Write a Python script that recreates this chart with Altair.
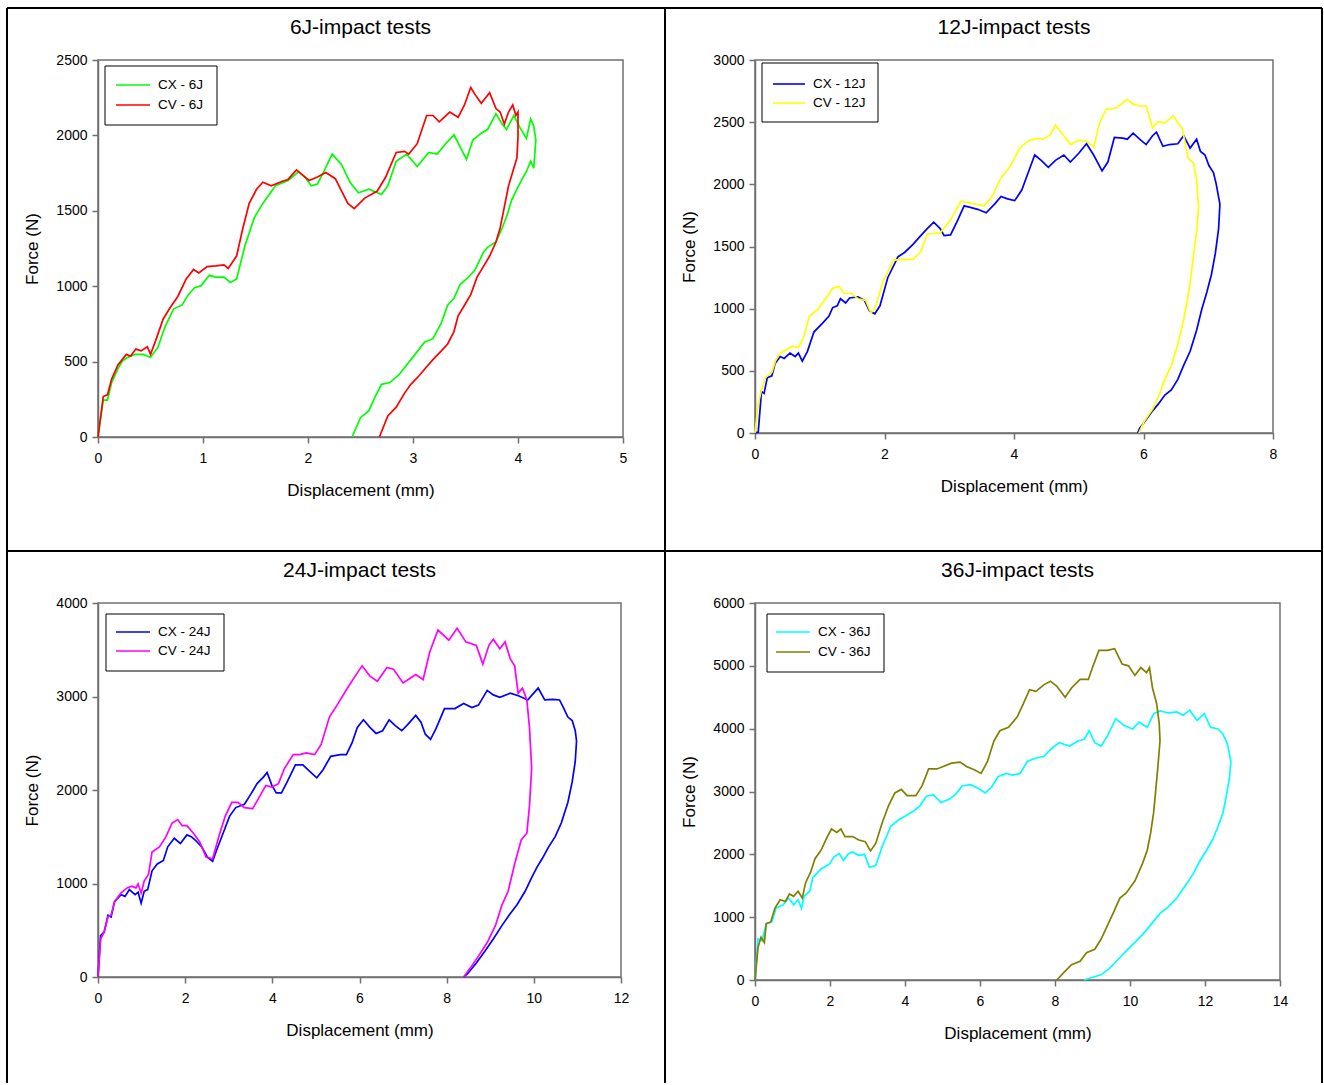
import altair as alt
import pandas as pd

FONT = "Liberation Sans"

TITLES = ["6J-impact tests", "12J-impact tests", "24J-impact tests", "36J-impact tests"]
X_TITLE = "Displacement (mm)"
Y_TITLE = "Force (N)"

NAMES_6 = ["CX - 6J", "CV - 6J"]
NAMES_12 = ["CX - 12J", "CV - 12J"]
NAMES_24 = ["CX - 24J", "CV - 24J"]
NAMES_36 = ["CX - 36J", "CV - 36J"]

# ---------------- 6J ----------------
CX6_X = [0, 0.05, 0.09, 0.13, 0.19, 0.23, 0.27, 0.35, 0.43, 0.50,
         0.57, 0.64, 0.72, 0.80, 0.86, 0.92, 0.98, 1.06, 1.12, 1.20,
         1.26, 1.32, 1.40, 1.49, 1.57, 1.69, 1.81, 1.91, 1.97, 2.03,
         2.09, 2.15, 2.23, 2.32, 2.40, 2.48, 2.58, 2.70, 2.76, 2.84,
         2.94, 3.04, 3.15, 3.23, 3.31, 3.39, 3.45, 3.51, 3.57, 3.65,
         3.71, 3.79, 3.85, 3.89, 3.96, 4.02, 4.08, 4.12, 4.15, 4.17,
         4.15, 4.12, 4.08, 4.04, 3.98, 3.94, 3.90, 3.85, 3.79, 3.71,
         3.67, 3.59, 3.51, 3.45, 3.39, 3.33, 3.27, 3.19, 3.11, 3.02,
         2.94, 2.86, 2.78, 2.70, 2.64, 2.58, 2.50, 2.42]
CX6_Y = [0, 245, 245, 361, 454, 501, 524, 548, 548, 529,
         594, 734, 850, 874, 944, 990, 1002, 1072, 1060, 1060,
         1025, 1048, 1270, 1456, 1549, 1666, 1701, 1759, 1724, 1666,
         1678, 1759, 1876, 1806, 1689, 1619, 1643, 1608, 1666, 1829,
         1876, 1794, 1887, 1876, 1945, 2004, 1922, 1841, 1969, 2015,
         2039, 2144, 2074, 2039, 2132, 2050, 1980, 2109, 2062, 1969,
         1782, 1829, 1759, 1712, 1631, 1573, 1480, 1386, 1293, 1258,
         1223, 1107, 1048, 1013, 920, 874, 757, 652, 629, 548,
         478, 408, 361, 349, 268, 175, 128, 0]
CV6_X = [0, 0.05, 0.09, 0.13, 0.19, 0.27, 0.31, 0.36, 0.41, 0.47,
         0.50, 0.55, 0.62, 0.68, 0.76, 0.84, 0.91, 0.96, 1.04, 1.12,
         1.20, 1.24, 1.32, 1.38, 1.44, 1.51, 1.57, 1.65, 1.75, 1.81,
         1.89, 1.95, 2.01, 2.09, 2.17, 2.26, 2.32, 2.38, 2.44, 2.54,
         2.66, 2.74, 2.84, 2.92, 2.96, 3.04, 3.13, 3.19, 3.25, 3.35,
         3.43, 3.49, 3.55, 3.59, 3.65, 3.73, 3.79, 3.83, 3.87, 3.91,
         3.95, 3.98, 4.00,
         4.00, 3.99, 3.96, 3.91, 3.87, 3.83, 3.79, 3.73, 3.67, 3.61,
         3.55, 3.49, 3.43, 3.39, 3.33, 3.27, 3.19, 3.13, 3.06, 2.98,
         2.92, 2.84, 2.76, 2.70, 2.68]
CV6_Y = [0, 268, 280, 384, 478, 548, 536, 583, 571, 599,
         548, 641, 781, 850, 932, 1048, 1111, 1088, 1130, 1135,
         1142, 1118, 1200, 1386, 1549, 1643, 1689, 1666, 1694, 1708,
         1771, 1736, 1701, 1724, 1754, 1713, 1631, 1549, 1515, 1584,
         1631, 1724, 1887, 1894, 1876, 1945, 2132, 2132, 2090, 2155,
         2120, 2202, 2318, 2272, 2213, 2283, 2178, 2155, 2074, 2155,
         2202, 2132, 2155,
         1992, 1852, 1782, 1666, 1526, 1386, 1293, 1200, 1130, 1060,
         944, 874, 804, 699, 617, 571, 513, 466, 408, 349,
         291, 198, 140, 35, 0]

# ---------------- 12J ----------------
CX12_X = [0, 0.05, 0.10, 0.14, 0.19, 0.26, 0.31, 0.39, 0.45, 0.54,
          0.62, 0.67, 0.73, 0.81, 0.91, 1.04, 1.14, 1.20, 1.27, 1.32,
          1.40, 1.46, 1.59, 1.69, 1.77, 1.85, 1.93, 2.05, 2.21, 2.31,
          2.44, 2.56, 2.66, 2.76, 2.86, 2.92, 3.02, 3.12, 3.23, 3.34,
          3.44, 3.57, 3.70, 3.80, 3.90, 4.01, 4.12, 4.22, 4.32, 4.42,
          4.53, 4.64, 4.77, 4.87, 5.00, 5.12, 5.23, 5.36, 5.45, 5.55,
          5.68, 5.75, 5.84, 5.94, 6.04, 6.14, 6.20, 6.30, 6.40, 6.53,
          6.62, 6.72, 6.82, 6.88, 6.95, 7.01, 7.08, 7.12, 7.18, 7.16,
          7.11, 7.05, 6.98, 6.90, 6.82, 6.72, 6.62, 6.53, 6.43, 6.33,
          6.23, 6.14, 6.04, 5.94, 5.91]
CX12_Y = [0, 8, 333, 319, 445, 460, 558, 615, 600, 643,
          615, 643, 578, 657, 812, 882, 939, 1009, 1023, 1080,
          1046, 1086, 1094, 1066, 981, 959, 1023, 1249, 1418, 1452,
          1517, 1587, 1644, 1695, 1644, 1587, 1593, 1700, 1827, 1813,
          1799, 1771, 1841, 1903, 1883, 1869, 1954, 2095, 2236, 2193,
          2137, 2193, 2236, 2179, 2250, 2326, 2236, 2109, 2179, 2377,
          2371, 2363, 2411, 2363, 2320, 2391, 2419, 2306, 2320, 2326,
          2391, 2292, 2363, 2264, 2236, 2151, 2095, 2010, 1841, 1644,
          1446, 1277, 1136, 995, 826, 657, 544, 431, 347, 305,
          234, 178, 107, 37, 0]
CV12_X = [0, 0.05, 0.10, 0.16, 0.26, 0.32, 0.39, 0.49, 0.58, 0.67,
          0.75, 0.84, 0.97, 1.10, 1.20, 1.30, 1.38, 1.49, 1.59, 1.71,
          1.79, 1.85, 1.98, 2.14, 2.31, 2.44, 2.56, 2.66, 2.86, 3.02,
          3.18, 3.34, 3.54, 3.67, 3.80, 3.93, 4.09, 4.22, 4.35, 4.45,
          4.56, 4.64, 4.74, 4.87, 5.00, 5.12, 5.23, 5.32, 5.42, 5.58,
          5.75, 5.84, 5.94, 6.04, 6.14, 6.23, 6.33, 6.46, 6.54, 6.60,
          6.69, 6.77, 6.82, 6.85, 6.82,
          6.77, 6.71, 6.62, 6.53, 6.43, 6.33, 6.23, 6.14, 6.01, 5.93]
CV12_Y = [0, 234, 347, 445, 488, 586, 643, 671, 699, 685,
          770, 939, 995, 1086, 1164, 1179, 1122, 1122, 1080, 1066,
          967, 995, 1221, 1390, 1396, 1396, 1460, 1601, 1610, 1714,
          1864, 1847, 1827, 1911, 2053, 2137, 2292, 2349, 2368, 2363,
          2399, 2475, 2411, 2320, 2354, 2349, 2298, 2490, 2602, 2616,
          2681, 2645, 2630, 2630, 2456, 2504, 2495, 2552, 2490, 2447,
          2208, 2174, 2039, 1813, 1616,
          1418, 1164, 911, 713, 544, 431, 290, 192, 93, 0]

# ---------------- 24J ----------------
CX24_X = [0, 0.06, 0.14, 0.23, 0.30, 0.38, 0.53, 0.62, 0.72, 0.85,
          0.92, 0.99, 1.06, 1.14, 1.24, 1.36, 1.50, 1.60, 1.75, 1.89,
          2.04, 2.14, 2.23, 2.38, 2.51, 2.63, 2.72, 2.87, 3.02, 3.16,
          3.36, 3.51, 3.65, 3.80, 3.88, 3.99, 4.09, 4.21, 4.34, 4.53,
          4.70, 4.87, 5.02, 5.16, 5.34, 5.56, 5.70, 5.83, 5.95, 6.09,
          6.24, 6.38, 6.53, 6.68, 6.82, 6.97, 7.12, 7.29, 7.41, 7.51,
          7.63, 7.75, 7.95, 8.19, 8.39, 8.58, 8.73, 8.93, 9.07, 9.22,
          9.46, 9.66, 9.86, 9.96, 10.10, 10.25, 10.44, 10.59, 10.69, 10.78,
          10.88, 10.95, 10.98, 10.95,
          10.88, 10.78, 10.63, 10.49, 10.34, 10.19, 10.07, 9.95, 9.80, 9.61,
          9.46, 9.27, 9.07, 8.88, 8.68, 8.49, 8.39]
CX24_Y = [0, 442, 479, 661, 643, 807, 880, 862, 935, 880,
          906, 789, 917, 935, 1136, 1209, 1246, 1392, 1483, 1428,
          1520, 1501, 1465, 1392, 1282, 1238, 1355, 1538, 1721, 1812,
          1848, 1958, 2068, 2141, 2188, 2049, 1969, 1969, 2086, 2268,
          2268, 2195, 2130, 2214, 2360, 2378, 2378, 2506, 2670, 2751,
          2670, 2605, 2634, 2751, 2689, 2634, 2707, 2798, 2725, 2597,
          2542, 2652, 2871, 2871, 2926, 2882, 2908, 3065, 3017, 2992,
          3035, 3006, 2963, 3017, 3090, 2963, 2970, 2963, 2871, 2780,
          2743, 2634, 2524, 2305,
          2086, 1867, 1647, 1501, 1392, 1264, 1173, 1063, 917, 771,
          679, 552, 406, 278, 150, 40, 0]
CV24_X = [0, 0.06, 0.14, 0.23, 0.30, 0.38, 0.53, 0.67, 0.77, 0.87,
          0.92, 0.99, 1.06, 1.16, 1.24, 1.41, 1.56, 1.70, 1.83, 1.93,
          2.04, 2.19, 2.33, 2.48, 2.63, 2.77, 2.92, 3.07, 3.21, 3.36,
          3.55, 3.72, 3.85, 3.99, 4.14, 4.28, 4.48, 4.63, 4.78, 4.97,
          5.12, 5.31, 5.51, 5.70, 5.90, 6.06, 6.24, 6.41, 6.63, 6.78,
          7.00, 7.12, 7.29, 7.46, 7.61, 7.80, 8.05, 8.24, 8.44, 8.68,
          8.83, 8.97, 9.07, 9.22, 9.34, 9.46, 9.56, 9.64, 9.74, 9.84,
          9.90, 9.95,
          9.90, 9.84, 9.71, 9.56, 9.41, 9.27, 9.12, 8.93, 8.73, 8.54, 8.39]
CV24_Y = [0, 405, 479, 643, 661, 807, 899, 953, 972, 953,
          997, 899, 1026, 1100, 1337, 1392, 1501, 1647, 1684, 1618,
          1618, 1538, 1447, 1282, 1264, 1501, 1721, 1867, 1867, 1812,
          1801, 1940, 2049, 2031, 2068, 2232, 2378, 2378, 2396, 2378,
          2488, 2780, 2926, 3072, 3218, 3328, 3218, 3163, 3310, 3291,
          3145, 3182, 3236, 3182, 3474, 3711, 3602, 3730, 3584, 3547,
          3346, 3547, 3613, 3510, 3584, 3401, 3328, 3036, 3090, 2963,
          2670, 2232,
          1830, 1538, 1465, 1209, 917, 771, 552, 369, 223, 95, 0]

# ---------------- 36J ----------------
CX36_X = [0, 0.08, 0.19, 0.30, 0.45, 0.56, 0.75, 0.90, 1.03, 1.15,
          1.24, 1.31, 1.46, 1.54, 1.76, 1.99, 2.10, 2.25, 2.36, 2.49,
          2.60, 2.77, 2.92, 3.05, 3.22, 3.39, 3.62, 3.84, 4.01, 4.23,
          4.40, 4.57, 4.76, 4.96, 5.19, 5.36, 5.52, 5.75, 5.97, 6.14,
          6.31, 6.48, 6.70, 6.87, 7.07, 7.26, 7.49, 7.71, 7.88, 8.11,
          8.39, 8.61, 8.78, 8.91, 9.06, 9.23, 9.40, 9.62, 9.85, 10.07,
          10.24, 10.46, 10.63, 10.80, 11.03, 11.25, 11.42, 11.59, 11.79, 11.98,
          12.15, 12.35, 12.48, 12.60, 12.69, 12.65,
          12.57, 12.48, 12.35, 12.20, 12.04, 11.87, 11.68, 11.47, 11.25, 11.03,
          10.80, 10.58, 10.35, 10.13, 9.90, 9.68, 9.46, 9.23, 9.00, 8.78]
CX36_Y = [0, 652, 625, 897, 924, 1141, 1196, 1304, 1196, 1277,
          1141, 1332, 1413, 1630, 1766, 1848, 1957, 2011, 1902, 2011,
          2038, 1984, 2000, 1794, 1821, 2120, 2446, 2554, 2609, 2690,
          2772, 2924, 2946, 2826, 2880, 2962, 3087, 3109, 3044, 2978,
          3071, 3234, 3288, 3261, 3288, 3478, 3533, 3560, 3669, 3777,
          3723, 3804, 3832, 3967, 3777, 3723, 3886, 4158, 4049, 3995,
          4103, 4022, 4239, 4283, 4250, 4266, 4212, 4294, 4131, 4239,
          4022, 3995, 3913, 3750, 3478, 3207,
          2935, 2663, 2446, 2228, 2065, 1902, 1685, 1495, 1304, 1169,
          1060, 897, 734, 598, 462, 326, 190, 82, 43, 0]
CV36_X = [0, 0.08, 0.16, 0.25, 0.30, 0.42, 0.53, 0.67, 0.81, 0.92,
          1.03, 1.15, 1.26, 1.35, 1.48, 1.60, 1.76, 1.93, 2.04, 2.18,
          2.29, 2.40, 2.60, 2.77, 2.94, 3.08, 3.22, 3.39, 3.56, 3.73,
          3.90, 4.06, 4.29, 4.46, 4.63, 4.85, 5.02, 5.24, 5.47, 5.64,
          5.86, 6.03, 6.20, 6.37, 6.53, 6.76, 6.99, 7.16, 7.32, 7.49,
          7.71, 7.88, 8.05, 8.27, 8.44, 8.67, 8.89, 9.00, 9.17, 9.39,
          9.59, 9.79, 9.96, 10.13, 10.29, 10.44, 10.52, 10.60, 10.71, 10.78,
          10.80,
          10.74, 10.69, 10.63, 10.55, 10.46, 10.33, 10.13, 9.90, 9.73, 9.57,
          9.40, 9.23, 9.06, 8.84, 8.67, 8.44, 8.22, 8.05]
CV36_Y = [0, 516, 679, 598, 897, 924, 1141, 1277, 1250, 1370,
          1332, 1413, 1304, 1549, 1712, 1930, 2065, 2283, 2402, 2348,
          2402, 2283, 2283, 2228, 2201, 2054, 2174, 2500, 2772, 2978,
          3033, 2935, 2935, 3098, 3359, 3359, 3397, 3451, 3468, 3397,
          3343, 3288, 3478, 3804, 3967, 4022, 4185, 4402, 4620, 4593,
          4701, 4756, 4674, 4500, 4647, 4783, 4783, 4973, 5245, 5245,
          5272, 5027, 5000, 4848, 4973, 4891, 4973, 4647, 4402, 4076,
          3804,
          3370, 3044, 2663, 2337, 2065, 1848, 1576, 1386, 1304, 1087,
          870, 652, 489, 435, 299, 245, 109, 0]

# axis ticks
X_TICKS_6 = [0, 1, 2, 3, 4, 5]
Y_TICKS_6 = [0, 500, 1000, 1500, 2000, 2500]
X_TICKS_12 = [0, 2, 4, 6, 8]
Y_TICKS_12 = [0, 500, 1000, 1500, 2000, 2500, 3000]
X_TICKS_24 = [0, 2, 4, 6, 8, 10, 12]
Y_TICKS_24 = [0, 1000, 2000, 3000, 4000]
X_TICKS_36 = [0, 2, 4, 6, 8, 10, 12, 14]
Y_TICKS_36 = [0, 1000, 2000, 3000, 4000, 5000, 6000]


def curve_df(xs, ys):
    n = min(len(xs), len(ys))
    return pd.DataFrame({"x": xs[:n], "y": ys[:n], "i": list(range(n))})


def one_row(**kw):
    return pd.DataFrame([kw])


def panel(title, curves, xticks, yticks, w, h, leg, frame=None):
    xenc = alt.X("x:Q", scale=alt.Scale(domain=[xticks[0], xticks[-1]], nice=False, zero=False),
                 axis=alt.Axis(values=xticks, title=X_TITLE, format="d"))
    yenc = alt.Y("y:Q", scale=alt.Scale(domain=[yticks[0], yticks[-1]], nice=False, zero=False),
                 axis=alt.Axis(values=yticks, title=Y_TITLE, format="d"))
    layers = []
    for name, xs, ys, col in curves:
        layers.append(
            alt.Chart(curve_df(xs, ys)).mark_line(color=col, strokeWidth=1.7)
            .encode(x=xenc, y=yenc, order="i:Q")
        )
    bx0, by0, bx1, by1, sx0, sx1, sys, tx = leg
    layers.append(
        alt.Chart(one_row(k=0)).mark_rect(fill="white", stroke="black", strokeWidth=1)
        .encode(x=alt.value(bx0), x2=alt.value(bx1), y=alt.value(by0), y2=alt.value(by1))
    )
    for (name, xs, ys, col), sy in zip(curves, sys):
        layers.append(
            alt.Chart(one_row(label=name)).mark_rule(color=col, strokeWidth=1.6)
            .encode(x=alt.value(sx0), x2=alt.value(sx1), y=alt.value(sy))
        )
        layers.append(
            alt.Chart(one_row(label=name)).mark_text(align="left", baseline="middle", font=FONT,
                                                     fontSize=13.5, color="black")
            .encode(x=alt.value(tx), y=alt.value(sy), text="label:N")
        )
    layers.append(
        alt.Chart(one_row(t=title)).mark_text(align="center", baseline="alphabetic", font=FONT,
                                              fontSize=21, color="black")
        .encode(x=alt.value(w / 2), y=alt.value(-26), text="t:N")
    )
    if frame:
        for a, b, c, d in frame:
            layers.append(
                alt.Chart(one_row(k=0)).mark_rule(color="black", strokeWidth=2)
                .encode(x=alt.value(a), x2=alt.value(b), y=alt.value(c), y2=alt.value(d))
            )
    return alt.layer(*layers).properties(width=w, height=h)


# outer frame lines (figure decoration), drawn from panel 1's origin
FRAME = [(-91, -91, -52, 1023), (-91, 1224, -52, -52), (567, 567, -52, 1023),
         (-91, 1224, 491, 491), (1224, 1224, -52, 1023)]

p1 = panel(TITLES[0], [(NAMES_6[0], CX6_X, CX6_Y, "#00FF00"), (NAMES_6[1], CV6_X, CV6_Y, "#FF0000")],
           X_TICKS_6, Y_TICKS_6, 525, 377, (7, 6, 119, 65, 18, 52, (25, 45), 60), frame=FRAME)
p2 = panel(TITLES[1], [(NAMES_12[0], CX12_X, CX12_Y, "#0000FF"), (NAMES_12[1], CV12_X, CV12_Y, "#FFFF00")],
           X_TICKS_12, Y_TICKS_12, 518, 373, (7, 3, 123, 62, 18, 50, (24, 43), 58))
p3 = panel(TITLES[2], [(NAMES_24[0], CX24_X, CX24_Y, "#0000FF"), (NAMES_24[1], CV24_X, CV24_Y, "#FF00FF")],
           X_TICKS_24, Y_TICKS_24, 523, 374, (8, 11, 126, 68, 18, 52, (29, 48), 60))
p4 = panel(TITLES[3], [(NAMES_36[0], CX36_X, CX36_Y, "#00FFFF"), (NAMES_36[1], CV36_X, CV36_Y, "#808000")],
           X_TICKS_36, Y_TICKS_36, 525, 377, (12, 11, 129, 69, 21, 55, (29, 49), 63))

chart = (
    alt.concat(p1, p2, p3, p4, columns=2, spacing={"row": 166, "column": 132}, bounds="flush")
    .resolve_scale(x="independent", y="independent")
    .properties(padding={"left": 5, "top": 6, "right": 0, "bottom": 0}, background="white")
    .configure_view(stroke="#707070", strokeWidth=1.5)
    .configure_axis(domainColor="#707070", domainWidth=1.5, tickColor="#707070", tickWidth=1.5,
                    tickSize=6, grid=False, labelFont=FONT, labelFontSize=14, labelColor="black",
                    titleFont=FONT, titleFontSize=17, titleFontWeight="normal", titleColor="black",
                    labelFlush=False)
    .configure_axisX(labelPadding=8, titlePadding=17)
    .configure_axisY(labelPadding=5, titlePadding=14)
)

chart.save("out.html", embed_options={"renderer": "svg", "actions": False})
